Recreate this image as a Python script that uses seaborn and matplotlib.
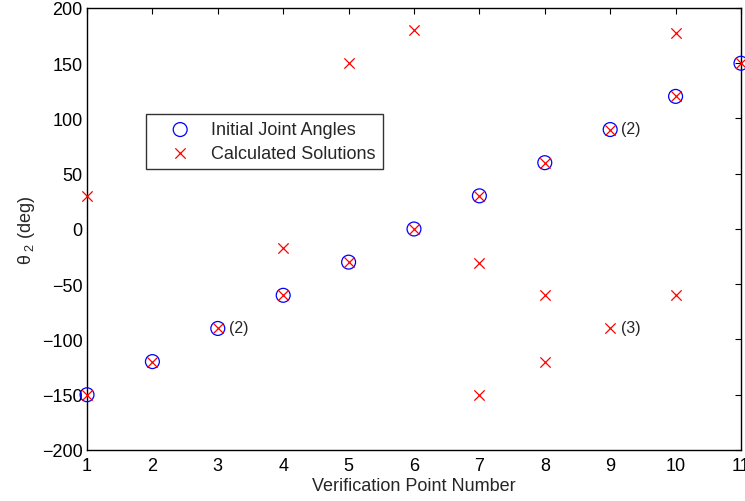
import numpy as np
import matplotlib
matplotlib.use('Agg')
import matplotlib.pyplot as plt
import pandas as pd
import seaborn as sns

# verification points and the joint angles
points = [1, 2, 3, 4, 5, 6, 7, 8, 9, 10, 11]
initial = [-150, -120, -90, -60, -30, 0, 30, 60, 90, 120, 150]

calc_x = [1, 1, 2, 3, 4, 4, 5, 5, 6, 6, 7, 7, 7, 8, 8, 8, 9, 9, 10, 10, 10, 11]
calc_y = [-150, 30, -120, -90, -60, -17, -30, 150, 0, 180, 30, -31, -150,
          60, -60, -120, 90, -90, 120, 177, -60, 150]

# multiplicity labels
note_x = [3, 9, 9]
note_y = [-90, 90, -90]
note_txt = ['(2)', '(2)', '(3)']

init_df = pd.DataFrame({'pt': points, 'ang': initial})
calc_df = pd.DataFrame({'pt': calc_x, 'ang': calc_y})

sns.set_style('white')
plt.rcParams['font.family'] = ['Liberation Sans', 'DejaVu Sans']
plt.rcParams['mathtext.fontset'] = 'custom'
plt.rcParams['mathtext.rm'] = 'Liberation Sans'
plt.rcParams['mathtext.it'] = 'Liberation Sans'

fig = plt.figure(figsize=(7.45, 5.02), dpi=100)
ax = fig.add_axes([0.1168, 0.1016, 0.8778, 0.8805])

sns.scatterplot(data=init_df, x='pt', y='ang', marker='o', s=100,
                facecolors='none', edgecolor='blue', linewidth=0.9,
                label='Initial Joint Angles', clip_on=False, zorder=3, ax=ax)
sns.scatterplot(data=calc_df, x='pt', y='ang', marker='x', s=55,
                color='red', linewidth=0.9,
                label='Calculated Solutions', clip_on=False, zorder=4, ax=ax)

for x, y, t in zip(note_x, note_y, note_txt):
    ax.annotate(t, (x, y), xytext=(8, 1), textcoords='offset points',
                va='center', ha='left', fontsize=11.5)

ax.set_xlim(1, 11)
ax.set_ylim(-200, 200)
ax.set_xticks(range(1, 12))
ax.set_yticks(range(-200, 201, 50))
ax.tick_params(direction='in', top=True, right=True, length=4, width=0.8,
               labelsize=13, colors='black')
ax.tick_params(axis='x', pad=5)
ax.tick_params(axis='y', pad=3)
for sp in ax.spines.values():
    sp.set_color('black')
    sp.set_linewidth(1.0)

ax.set_xlabel('Verification Point Number', fontsize=13, labelpad=2)
ax.set_ylabel(r'$\mathregular{\theta_{\ 2}}$ (deg)', fontsize=13, labelpad=4)

leg = ax.legend(loc='upper left', bbox_to_anchor=(0.09, 0.76), fontsize=13,
                frameon=True, fancybox=False, edgecolor='black',
                borderpad=0.4, labelspacing=0.35, handletextpad=0.2,
                handlelength=3.0, borderaxespad=0)
leg.get_frame().set_linewidth(1.0)

fig.savefig('out.png', dpi=100)
